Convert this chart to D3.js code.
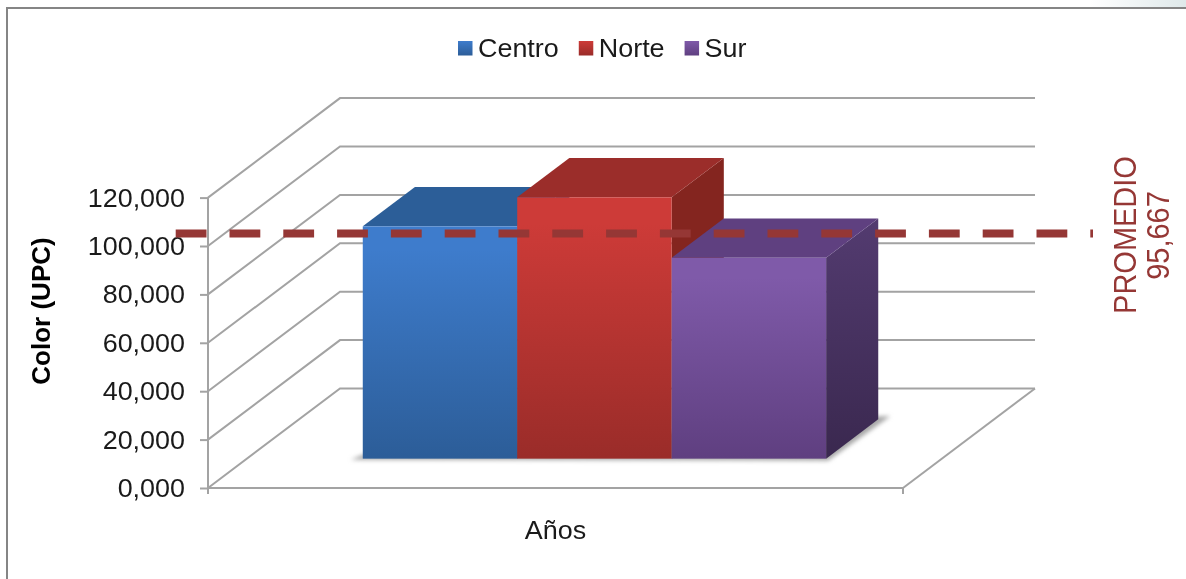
<!DOCTYPE html>
<meta charset="utf-8">
<style>
body { margin: 0; background: white; }
svg { display: block; filter: blur(0.4px); }
text { font-family: "Liberation Sans", Arial, sans-serif; fill: #1a1a1a; }
</style>
<body>
<script src="https://d3js.org/d3.v7.min.js"></script>
<svg id="chart" width="1186" height="579"></svg>
<script>
// values
var years = ["Años"];
var seriesNames = ["Centro", "Norte", "Sur"];
var seriesValues = [96, 108, 83];
var promedio = 95.667;
var promedioLabel = "95,667";
var yTicks = [0, 20, 40, 60, 80, 100, 120];
var yTickLabels = ["0,000", "20,000", "40,000", "60,000", "80,000", "100,000", "120,000"];

// [front face top, front face bottom, top face, side top, side bottom]
var seriesColors = [
  ["#3e7ccc", "#2c5d98", "#2c5e98", "#2c5e98", "#234c7c"],
  ["#cd3b38", "#9a2c29", "#9b2d2a", "#84251f", "#84251f"],
  ["#7f5aa9", "#5f3f80", "#5f4080", "#533b70", "#3a284f"]
];
var lineColor = "#953735";
var gridColor = "#a3a3a3";

var svg = d3.select("#chart");
var defs = svg.append("defs");

// the picture is stretched sideways a little, so the text gets this factor
var stretch = 1.035;

// front plane of the box, and how far the back wall sits from it
var plot = { left: 208, right: 903, top: 197.6, bottom: 488 };
var depth = { dx: 132, dy: -99.5 };
var barNear = 0.295, barFar = 0.69, lineDepth = 0.23;

var x = d3.scaleBand().domain(years).range([plot.left, plot.right]).paddingOuter(0.25).paddingInner(0);
var xSeries = d3.scaleBand().domain(seriesNames).range([x(years[0]), x(years[0]) + x.bandwidth()]);
var y = d3.scaleLinear().domain([0, 120]).range([plot.bottom, plot.top]);

// project a point (px along x, value, depth 0..1) on the screen
function px(xv, t) { return xv + depth.dx * t; }
function py(v, t) { return y(v) + depth.dy * t; }
function poly(pts) { return pts.map(function(p) { return p[0] + "," + p[1]; }).join(" "); }

function stretched(sel) {
  sel.each(function() {
    d3.select(this).attr("textLength", this.getComputedTextLength() * stretch).attr("lengthAdjust", "spacingAndGlyphs");
  });
  return sel;
}

// frame of the chart, cut by the window on right and bottom
var topGrad = defs.append("linearGradient").attr("id", "corner");
topGrad.append("stop").attr("offset", "0").attr("stop-color", "#ffffff");
topGrad.append("stop").attr("offset", "1").attr("stop-color", "#dfe9ea");
svg.append("rect").attr("x", 1090).attr("y", 0).attr("width", 96).attr("height", 7).attr("fill", "url(#corner)");
svg.append("path").attr("d", "M7,579V8H1186").attr("fill", "none").attr("stroke", "#858585").attr("stroke-width", 2);

// walls
var walls = svg.append("g").attr("fill", "none").attr("stroke", gridColor).attr("stroke-width", 2);
yTicks.forEach(function(v) {
  walls.append("polyline").attr("points", poly([
    [px(plot.left, 0), py(v, 0)],
    [px(plot.left, 1), py(v, 1)],
    [px(plot.right, 1), py(v, 1)]
  ]));
});
walls.append("polyline").attr("points", poly([
  [px(plot.right, 0), py(0, 0)],
  [px(plot.right, 1), py(0, 1)]
]));

// shadow on the floor
var shadowBlur = defs.append("filter").attr("id", "soft").attr("x", "-10%").attr("y", "-50%").attr("width", "120%").attr("height", "200%");
shadowBlur.append("feGaussianBlur").attr("stdDeviation", 2.2);
var lastX = xSeries(seriesNames[2]) + xSeries.bandwidth();
var firstX = xSeries(seriesNames[0]);
svg.append("polygon")
  .attr("points", poly([
    [px(firstX, barNear) - 12, py(0, barNear) + 1],
    [px(lastX, barNear) + 2, py(0, barNear) + 2],
    [px(lastX, barFar) + 12, py(0, barFar) - 3],
    [px(lastX, barFar), py(0, barFar) - 3],
    [px(firstX, barNear), py(0, barNear) - 4]
  ]))
  .attr("fill", "#a8a8a8")
  .attr("filter", "url(#soft)");

// gradients for fronts and sides
seriesNames.forEach(function(name, i) {
  var g = defs.append("linearGradient").attr("id", "front" + i).attr("x1", 0).attr("y1", 0).attr("x2", 0).attr("y2", 1);
  g.append("stop").attr("offset", "0.1").attr("stop-color", seriesColors[i][0]);
  g.append("stop").attr("offset", "1").attr("stop-color", seriesColors[i][1]);
  var s = defs.append("linearGradient").attr("id", "side" + i).attr("x1", 0).attr("y1", 0).attr("x2", 0).attr("y2", 1);
  s.append("stop").attr("offset", "0").attr("stop-color", seriesColors[i][3]);
  s.append("stop").attr("offset", "1").attr("stop-color", seriesColors[i][4]);
});

// bars, left to right so each one covers the one before
var bars = svg.append("g").selectAll("g")
  .data(seriesNames)
  .join("g");

bars.each(function(name, i) {
  var g = d3.select(this);
  var v = seriesValues[i];
  var x0 = xSeries(name), x1 = x0 + xSeries.bandwidth();
  g.append("polygon").attr("fill", "url(#side" + i + ")").attr("points", poly([
    [px(x1, barNear), py(v, barNear)],
    [px(x1, barFar), py(v, barFar)],
    [px(x1, barFar), py(0, barFar)],
    [px(x1, barNear), py(0, barNear)]
  ]));
  g.append("polygon").attr("fill", seriesColors[i][2]).attr("points", poly([
    [px(x0, barNear), py(v, barNear)],
    [px(x0, barFar), py(v, barFar)],
    [px(x1, barFar), py(v, barFar)],
    [px(x1, barNear), py(v, barNear)]
  ]));
  g.append("rect")
    .attr("x", px(x0, barNear))
    .attr("y", py(v, barNear))
    .attr("width", x1 - x0)
    .attr("height", py(0, barNear) - py(v, barNear))
    .attr("fill", "url(#front" + i + ")");
});

// axes
var yAxis = d3.axisLeft(y)
  .tickValues(yTicks)
  .tickFormat(function(d, i) { return yTickLabels[i]; })
  .tickSize(8)
  .tickSizeOuter(0)
  .tickPadding(15);
var yG = svg.append("g").attr("transform", "translate(" + plot.left + ",0)").call(yAxis);
yG.selectAll("line").attr("stroke", gridColor).attr("stroke-width", 2);
yG.select(".domain").remove();
yG.selectAll("text")
  .style("font-size", "26px")
  .attr("dy", "0.33em")
  .call(stretched);
svg.append("line").attr("x1", plot.left).attr("x2", plot.left).attr("y1", plot.top).attr("y2", plot.bottom + 6)
  .attr("stroke", gridColor).attr("stroke-width", 2);
svg.append("line").attr("x1", plot.left).attr("x2", plot.right).attr("y1", plot.bottom).attr("y2", plot.bottom)
  .attr("stroke", gridColor).attr("stroke-width", 2);
svg.append("line").attr("x1", plot.right).attr("x2", plot.right).attr("y1", plot.bottom).attr("y2", plot.bottom + 6)
  .attr("stroke", gridColor).attr("stroke-width", 2);

// x category label
svg.append("text")
  .attr("x", x(years[0]) + x.bandwidth() / 2)
  .attr("y", 539)
  .attr("text-anchor", "middle")
  .style("font-size", "26px")
  .text(years[0])
  .call(stretched);

// y axis title
svg.append("text")
  .attr("transform", "translate(50,311) rotate(-90)")
  .attr("text-anchor", "middle")
  .style("font-size", "26px")
  .style("font-weight", "bold")
  .style("fill", "#000")
  .text("Color (UPC)");

// legend
var legendX = 458;
seriesNames.forEach(function(name, i) {
  var g = defs.append("linearGradient").attr("id", "key" + i).attr("x1", 0).attr("y1", 0).attr("x2", 0).attr("y2", 1);
  g.append("stop").attr("offset", "0").attr("stop-color", seriesColors[i][0]);
  g.append("stop").attr("offset", "1").attr("stop-color", seriesColors[i][1]);
  svg.append("rect").attr("x", legendX).attr("y", 41).attr("width", 14.5).attr("height", 14.5)
    .attr("fill", "url(#key" + i + ")");
  var t = svg.append("text")
    .attr("x", legendX + 20)
    .attr("y", 56.5)
    .style("font-size", "26px")
    .text(name)
    .call(stretched);
  legendX += 20 + t.node().getComputedTextLength() + 20;
});

// average line
svg.append("line")
  .attr("x1", 175.7)
  .attr("x2", 1093)
  .attr("y1", py(promedio, lineDepth))
  .attr("y2", py(promedio, lineDepth))
  .attr("stroke", lineColor)
  .attr("stroke-width", 8)
  .attr("stroke-dasharray", "30.8 23");

// average label
var avgLabel = svg.append("g").style("font-size", "29px");
avgLabel.append("text")
  .attr("transform", "translate(1136,235) rotate(-90) scale(1,1.1)")
  .attr("text-anchor", "middle")
  .style("fill", lineColor)
  .text("PROMEDIO");
avgLabel.append("text")
  .attr("transform", "translate(1169,235.5) rotate(-90) scale(1,1.1)")
  .attr("text-anchor", "middle")
  .style("fill", lineColor)
  .text(promedioLabel);
</script>
</body>
